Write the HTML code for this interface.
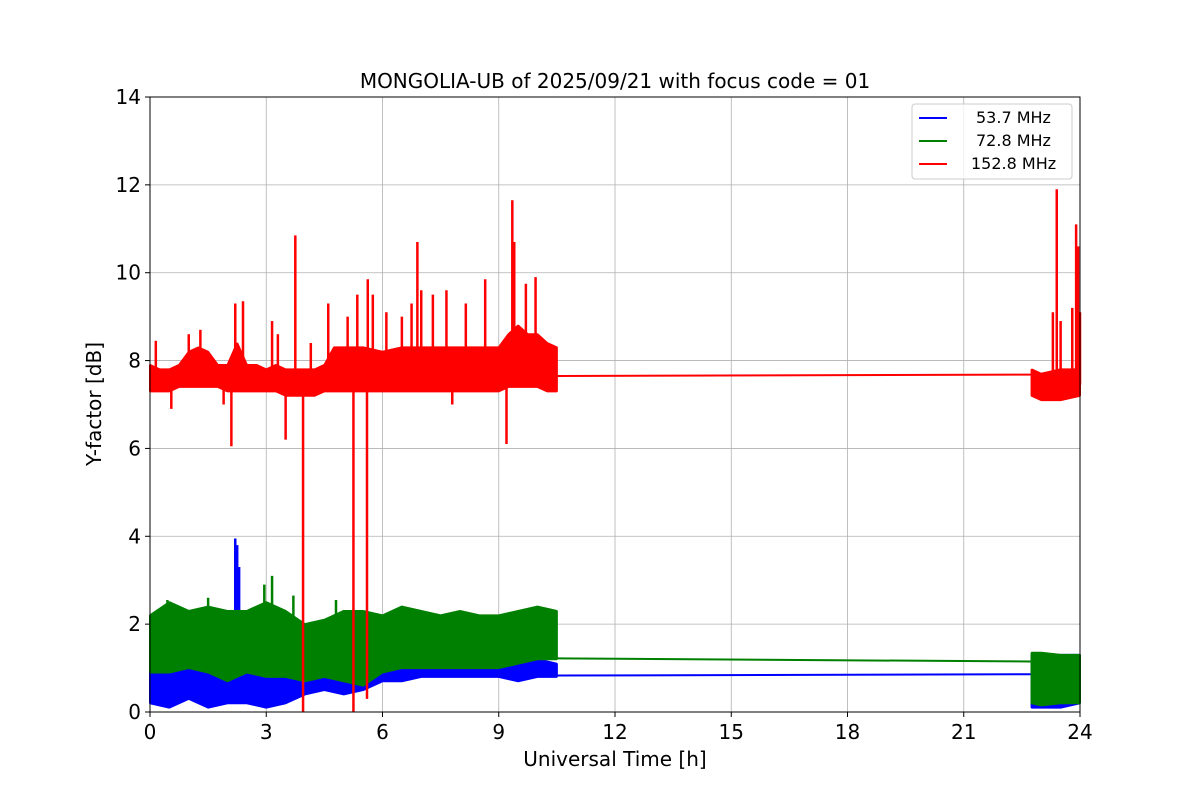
<!DOCTYPE html>
<html><head><meta charset="utf-8"><style>
body{margin:0;background:#fff}
svg text{font-family:"DejaVu Sans","Liberation Sans",sans-serif}
</style></head><body>
<svg id="chart" width="1200" height="800" xmlns="http://www.w3.org/2000/svg">
<rect width="1200" height="800" fill="#fff"/>
<g id="grid"></g>
<g id="series"></g>
<rect x="150" y="97" width="930" height="615" fill="none" stroke="#000" stroke-width="1"/>
<g id="axes"></g>
<text x="615" y="88" text-anchor="middle" font-size="20">MONGOLIA-UB of 2025/09/21 with focus code = 01</text>
<text x="615" y="766" text-anchor="middle" font-size="20">Universal Time [h]</text>
<text x="101" y="404" text-anchor="middle" font-size="20" transform="rotate(-90 101 404)">Y-factor [dB]</text>
<g>
<rect x="912" y="104" width="160" height="75" rx="3" fill="#fff" fill-opacity="0.8" stroke="#ccc"/>
<g><line x1="919" y1="118" x2="947" y2="118" stroke="#0000ff" stroke-width="2"/><text x="976" y="123" font-size="16">53.7 MHz</text></g>
<g><line x1="919" y1="141" x2="947" y2="141" stroke="#008000" stroke-width="2"/><text x="976" y="146" font-size="16">72.8 MHz</text></g>
<g><line x1="919" y1="164" x2="947" y2="164" stroke="#ff0000" stroke-width="2"/><text x="971" y="169" font-size="16">152.8 MHz</text></g>
</g>
</svg>
<script>
const xTicks=[0,3,6,9,12,15,18,21,24];
const yTicks=[0,2,4,6,8,10,12,14];
// blue 53.7 MHz band: [t, lo, hi]
const blueBand1=[[0,0.2,1.0],[0.5,0.1,1.1],[1,0.3,1.1],[1.5,0.1,1.3],[2,0.2,1.0],[2.5,0.2,1.0],[3,0.1,1.1],[3.5,0.2,0.9],[4,0.4,1.0],[4.5,0.5,1.0],[5,0.4,1.4],[5.5,0.5,1.2],[6,0.7,1.1],[6.5,0.7,1.1],[7,0.8,1.1],[7.5,0.8,1.1],[8,0.8,1.1],[8.5,0.8,1.0],[9,0.8,1.0],[9.5,0.7,1.2],[10,0.8,1.2],[10.5,0.8,1.1]];
const blueGap=[[10.5,0.83],[22.75,0.86]];
const blueBand2=[[22.75,0.1,1.3],[23,0.1,1.3],[23.5,0.1,1.3],[24,0.2,1.3]];
const blueSpikes=[[2.2,3.95],[2.25,3.8],[2.3,3.3]];
// green 72.8 MHz
const greenBand1=[[0,0.9,2.2],[0.5,0.9,2.5],[1,1.0,2.3],[1.5,0.9,2.4],[2,0.7,2.3],[2.5,0.9,2.3],[3,0.8,2.5],[3.5,0.8,2.3],[4,0.7,2.0],[4.5,0.8,2.1],[5,0.7,2.3],[5.5,0.6,2.3],[6,0.9,2.2],[6.5,1.0,2.4],[7,1.0,2.3],[7.5,1.0,2.2],[8,1.0,2.3],[8.5,1.0,2.2],[9,1.0,2.2],[9.5,1.1,2.3],[10,1.2,2.4],[10.5,1.2,2.3]];
const greenGap=[[10.5,1.22],[22.75,1.15]];
const greenBand2=[[22.75,0.2,1.35],[23,0.15,1.35],[23.5,0.2,1.3],[24,0.2,1.3]];
const greenSpikes=[[3.15,3.1],[2.95,2.9],[3.7,2.65],[1.5,2.6],[0.45,2.55],[4.8,2.55]];
// red 152.8 MHz
const redBand1=[[0,7.3,7.9],[0.25,7.3,7.8],[0.5,7.3,7.8],[0.75,7.4,7.9],[1,7.4,8.2],[1.25,7.4,8.3],[1.5,7.4,8.2],[1.75,7.4,7.9],[2,7.3,7.9],[2.25,7.3,8.4],[2.5,7.3,7.9],[2.75,7.3,7.9],[3,7.3,7.8],[3.25,7.3,7.9],[3.5,7.2,7.8],[3.75,7.2,7.8],[4,7.2,7.8],[4.25,7.2,7.8],[4.5,7.3,7.9],[4.75,7.3,8.3],[5,7.3,8.3],[5.5,7.3,8.3],[6,7.3,8.2],[6.5,7.3,8.3],[7,7.3,8.3],[7.5,7.3,8.3],[8,7.3,8.3],[8.5,7.3,8.3],[9,7.3,8.3],[9.25,7.4,8.6],[9.5,7.4,8.8],[9.75,7.4,8.6],[10,7.4,8.6],[10.25,7.3,8.4],[10.5,7.3,8.3]];
const redGap=[[10.5,7.65],[22.75,7.68]];
const redBand2=[[22.75,7.2,7.8],[23,7.1,7.7],[23.5,7.1,7.8],[24,7.2,7.8]];
const redSpikes=[[0.15,8.45],[0.55,6.9],[1.0,8.6],[1.3,8.7],[1.9,7.0],[2.1,6.05],[2.2,9.3],[2.4,9.35],[3.15,8.9],[3.3,8.6],[3.5,6.2],[3.75,10.85],[3.95,0],[4.15,8.4],[4.6,9.3],[4.9,8.3],[5.1,9.0],[5.25,0],[5.35,9.5],[5.6,0.3],[5.62,9.85],[5.75,9.5],[6.1,9.1],[6.5,9.0],[6.75,9.3],[6.9,10.7],[7.0,9.6],[7.3,9.5],[7.65,9.6],[7.8,7.0],[8.15,9.3],[8.65,9.85],[9.2,6.1],[9.35,11.65],[9.4,10.7],[9.7,9.75],[9.95,9.9],[23.3,9.1],[23.4,11.9],[23.5,8.9],[23.8,9.2],[23.9,11.1],[23.95,10.6],[24,9.1]];
const NS="http://www.w3.org/2000/svg";
const X0=150,X1=1080,Y0=712,Y1=97;
const xs=t=>X0+(t-0)/24*(X1-X0);
const ys=v=>Y0-(v-0)/14*(Y0-Y1);
function mk(tag,attrs,parent){const e=document.createElementNS(NS,tag);for(const k in attrs)e.setAttribute(k,attrs[k]);parent.appendChild(e);return e;}
const grid=document.getElementById('grid'),axes=document.getElementById('axes'),ser=document.getElementById('series');
xTicks.forEach(t=>{
 const g=mk('line',{x1:xs(t),x2:xs(t),y1:Y1,y2:Y0,stroke:'#b0b0b0','stroke-width':0.8},grid);
 
 
 mk('line',{x1:xs(t),x2:xs(t),y1:Y0,y2:Y0+5,stroke:'#000'},axes);
 const l=mk('text',{x:xs(t),y:Y0+27,'text-anchor':'middle','font-size':20},axes);
 l.textContent=t;
 
 
});
yTicks.forEach(v=>{
 const g=mk('line',{x1:X0,x2:X1,y1:ys(v),y2:ys(v),stroke:'#b0b0b0','stroke-width':0.8},grid);
 
 
 mk('line',{x1:X0-5,x2:X0,y1:ys(v),y2:ys(v),stroke:'#000'},axes);
 const l=mk('text',{x:X0-9,y:ys(v)+7,'text-anchor':'end','font-size':20},axes);
 l.textContent=v;
 
 
});
function drawSeries(name,color,bands,gap,spikes){
 const g=mk('g',{},ser);
 
 
 bands.forEach(b=>{
  const pts=b.map(p=>xs(p[0])+','+ys(p[2])).concat(b.slice().reverse().map(p=>xs(p[0])+','+ys(p[1])));
  const p=mk('polygon',{points:pts.join(' '),fill:color,stroke:color,'stroke-width':2,'stroke-linejoin':'bevel'},g);
  
  
 });
 const l=mk('polyline',{points:gap.map(p=>xs(p[0])+','+ys(p[1])).join(' '),fill:'none',stroke:color,'stroke-width':2},g);
 
 
 spikes.forEach(s=>{
  let base=null;
  for(const b of bands){for(let i=0;i<b.length-1;i++){if(s[0]>=b[i][0]&&s[0]<=b[i+1][0]){base=(b[i][1]+b[i][2])/2;}}}
  if(base===null)base=(bands[0][0][1]+bands[0][0][2])/2;
  const sp=mk('line',{x1:xs(s[0]),x2:xs(s[0]),y1:ys(base),y2:ys(s[1]),stroke:color,'stroke-width':2.5},g);
  
  
 });
}
drawSeries('blue-53-7mhz','#0000ff',[blueBand1,blueBand2],blueGap,blueSpikes);
drawSeries('green-72-8mhz','#008000',[greenBand1,greenBand2],greenGap,greenSpikes);
drawSeries('red-152-8mhz','#ff0000',[redBand1,redBand2],redGap,redSpikes);
</script>
</body></html>
